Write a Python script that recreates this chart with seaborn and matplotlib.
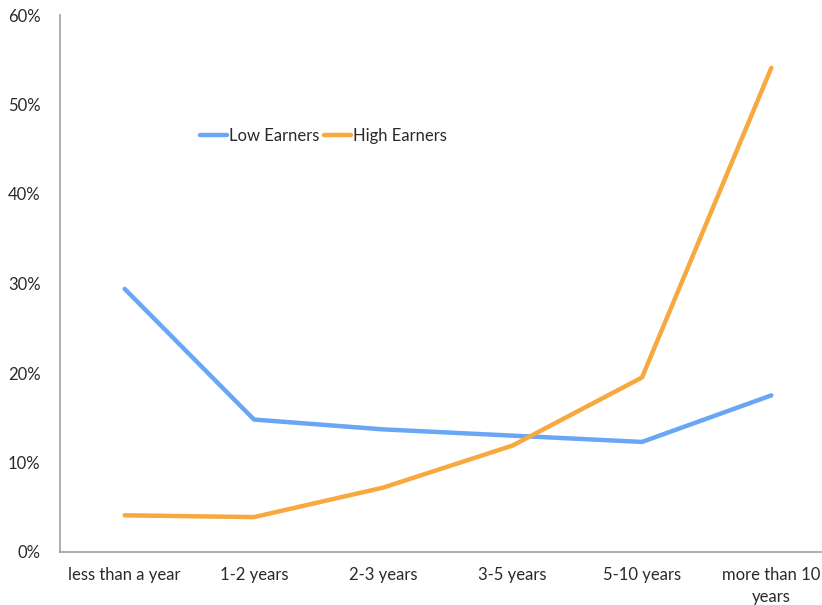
import matplotlib
matplotlib.use("Agg")
import matplotlib.pyplot as plt
import seaborn as sns
import pandas as pd
from matplotlib.ticker import FuncFormatter

categories = ["less than a year", "1-2 years", "2-3 years", "3-5 years", "5-10 years", "more than 10\nyears"]
low_earners = [29.4, 14.8, 13.7, 13.0, 12.3, 17.5]
high_earners = [4.1, 3.9, 7.2, 11.9, 19.5, 54.1]
series_names = ["Low Earners", "High Earners"]
colors = ["#69A6F5", "#F7A83E"]

df = pd.DataFrame({
    "cat": categories * 2,
    "x": list(range(len(categories))) * 2,
    "value": low_earners + high_earners,
    "series": [series_names[0]] * len(categories) + [series_names[1]] * len(categories),
})

sns.set_theme(style="white")
plt.rcParams["font.family"] = ["Lato", "DejaVu Sans"]

fig = plt.figure(figsize=(8.22, 6.05), dpi=100)
ax = fig.add_axes([60 / 822, 1 - 552 / 605, 776 / 822, (552 - 15) / 605])

sns.lineplot(data=df, x="x", y="value", hue="series", palette=colors,
             linewidth=3.2, ax=ax, sort=False)

ax.set_xlim(-0.5, 5.5)
ax.set_ylim(0, 60)
ax.set_yticks([0, 10, 20, 30, 40, 50, 60])
ax.yaxis.set_major_formatter(FuncFormatter(lambda v, p: f"{int(v)}%"))
ax.set_xticks(range(len(categories)))
ax.set_xticklabels(categories, fontsize=12, color="#2a2a2a", linespacing=1.45)
ax.tick_params(axis="y", labelsize=12, colors="#2a2a2a", pad=14, length=0)
ax.tick_params(axis="x", pad=11, length=0)
ax.set_xlabel("")
ax.set_ylabel("")
for s in ["top", "right"]:
    ax.spines[s].set_visible(False)
for s in ["left", "bottom"]:
    ax.spines[s].set_color("#A0A0A0")
    ax.spines[s].set_linewidth(1.2)

leg = ax.legend(loc="center left", bbox_to_anchor=(0.161, 0.775), ncol=2, frameon=False,
                fontsize=12, handlelength=1.6, handletextpad=0.12, columnspacing=0.3)
for t in leg.get_texts():
    t.set_color("#2a2a2a")

fig.savefig("out.png", dpi=100)
